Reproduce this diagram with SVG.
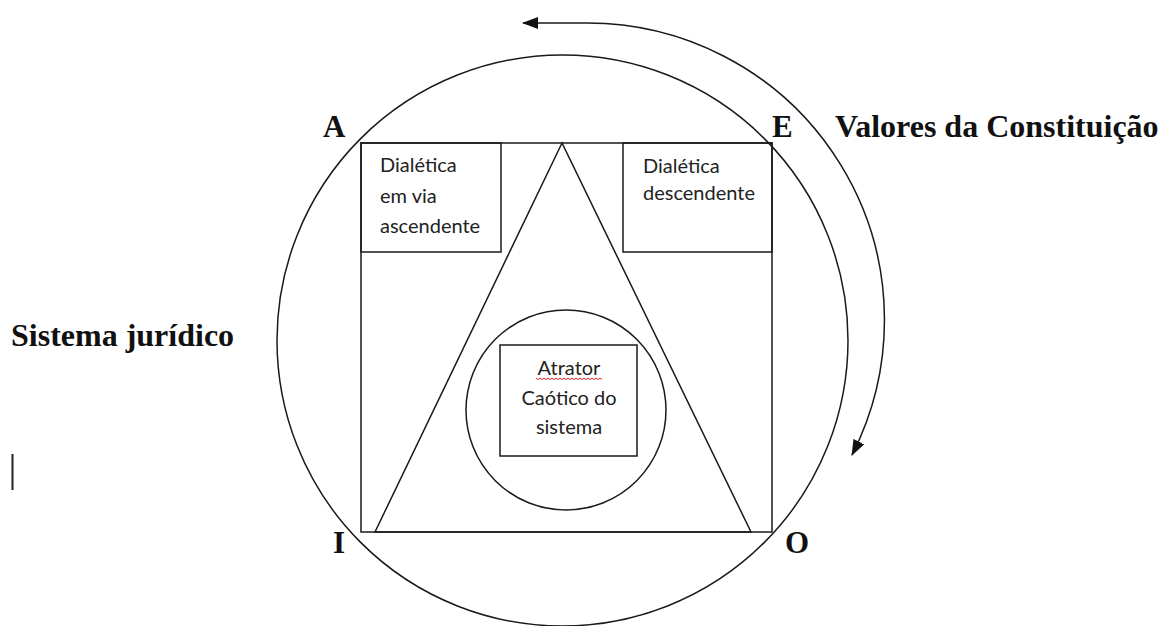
<svg xmlns="http://www.w3.org/2000/svg" width="1170" height="626" viewBox="0 0 1170 626">
<style>
.ln{fill:none;stroke:#1a1a1a;stroke-width:1.5}
.lbl{font-family:"Liberation Serif","Times New Roman",serif;font-weight:bold;font-size:31px;fill:#111}
.big{font-size:32px}
.bx{font-family:Lato,"Open Sans",sans-serif;font-size:20px;fill:#222}
</style>
<defs>
<marker id="ah" viewBox="0 0 16 12" refX="15" refY="6" markerWidth="16" markerHeight="12" markerUnits="userSpaceOnUse" orient="auto-start-reverse">
<path d="M0,0 L16,6 L0,12 Z" fill="#111"/>
</marker>
</defs>
<rect width="1170" height="626" fill="#fff"/>
<g id="outer-circle"><circle class="ln" cx="562.5" cy="340.5" r="285.5"/></g>
<g id="square"><rect class="ln" x="361" y="143" width="411" height="389"/></g>
<g id="triangle"><path class="ln" d="M562,143 L375,532 L751,532 Z"/></g>
<g id="box-ascendente">
<rect class="ln" x="361" y="143" width="140" height="109"/>
<text class="bx" x="380" y="172">Dialética</text>
<text class="bx" x="380" y="203">em via</text>
<text class="bx" x="380" y="233">ascendente</text>
</g>
<g id="box-descendente">
<rect class="ln" x="623" y="143" width="149" height="109"/>
<text class="bx" x="643" y="173">Dialética</text>
<text class="bx" x="643" y="200">descendente</text>
</g>
<g id="inner-circle"><circle class="ln" cx="566" cy="410" r="100"/></g>
<g id="atrator">
<rect class="ln" x="500" y="345" width="137" height="111"/>
<text class="bx" x="569" y="375" text-anchor="middle">Atrator</text>
<path d="M536,378 l2,1.6 l2,-1.6 l2,1.6 l2,-1.6 l2,1.6 l2,-1.6 l2,1.6 l2,-1.6 l2,1.6 l2,-1.6 l2,1.6 l2,-1.6 l2,1.6 l2,-1.6 l2,1.6 l2,-1.6 l2,1.6 l2,-1.6 l2,1.6 l2,-1.6 l2,1.6 l2,-1.6 l2,1.6 l2,-1.6 l2,1.6 l2,-1.6 l2,1.6 l2,-1.6 l2,1.6 l2,-1.6 l2,1.6 l2,-1.6 l2,1.6" fill="none" stroke="#e02020" stroke-width="1"/>
<text class="bx" x="569" y="405" text-anchor="middle">Caótico do</text>
<text class="bx" x="569" y="434" text-anchor="middle">sistema</text>
</g>
<g id="labels">
<text class="lbl" x="323" y="137">A</text>
<text class="lbl" x="772" y="137">E</text>
<text class="lbl" x="333" y="553">I</text>
<text class="lbl" x="785" y="553">O</text>
<text class="lbl big" x="835" y="137">Valores da Constituição</text>
<text class="lbl big" x="11" y="346">Sistema jurídico</text>
</g>
<g id="connectors">
<path class="ln" d="M523,23 L587,23 A297,297 0 0 1 852,455" marker-start="url(#ah)" marker-end="url(#ah)"/>
</g>
<line x1="12.5" y1="454" x2="12.5" y2="490" stroke="#222" stroke-width="2"/>
</svg>
